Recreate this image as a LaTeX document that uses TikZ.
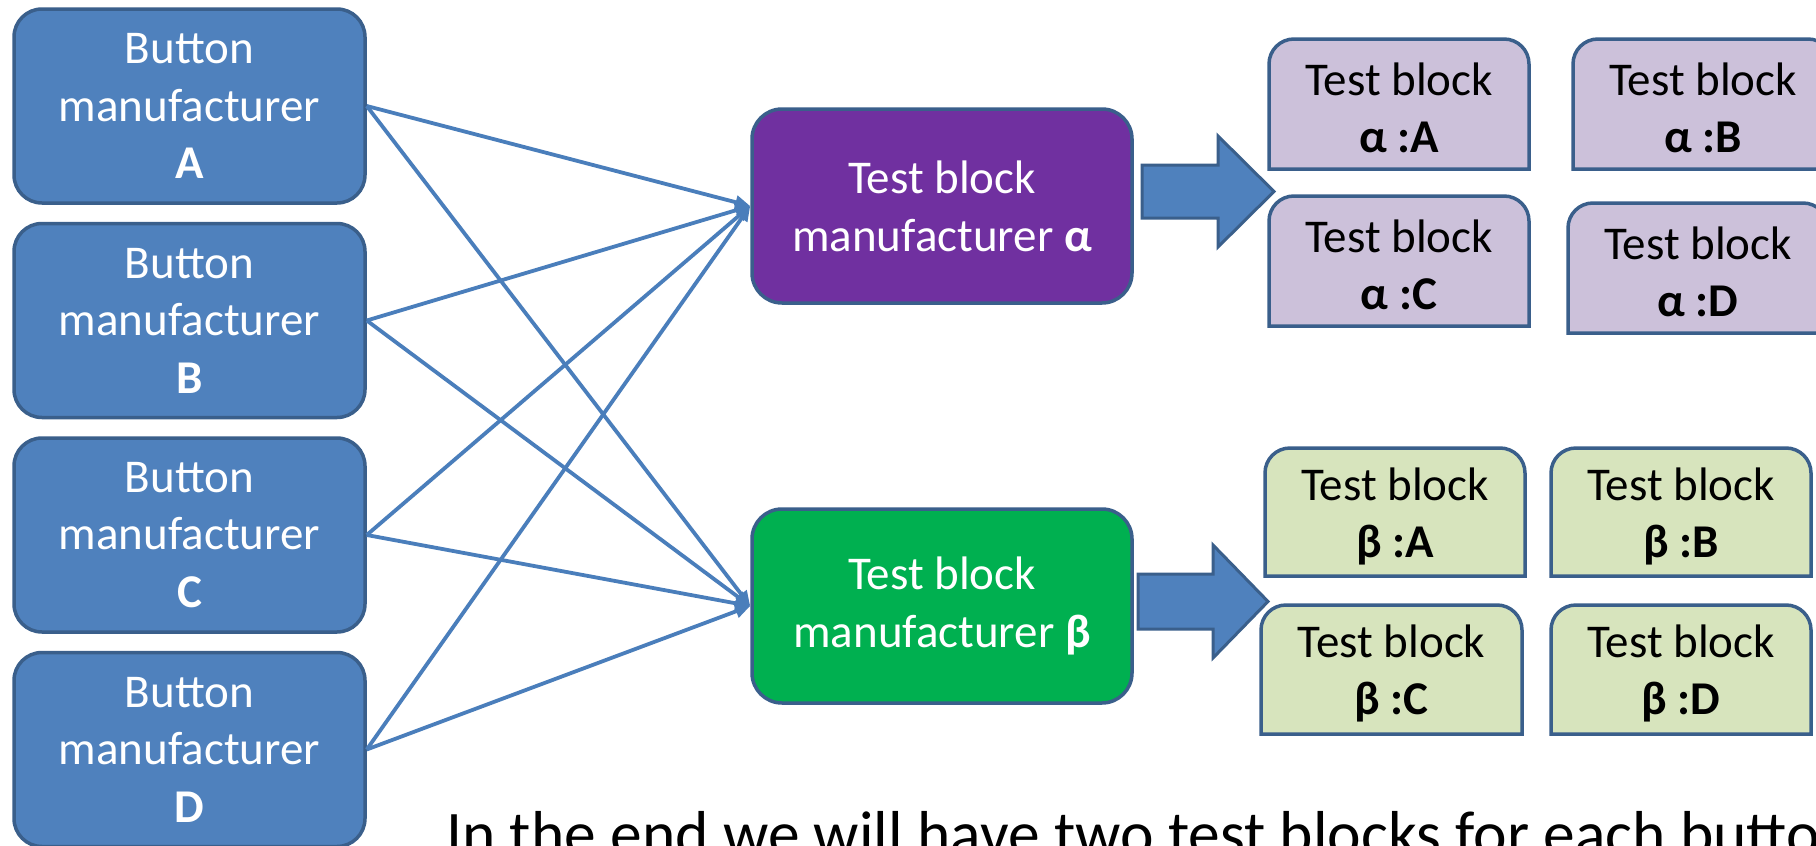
\documentclass[tikz,border=0pt]{standalone}
\usepackage{fontspec}
\setmainfont{Carlito}
\usetikzlibrary{arrows.meta}
\definecolor{btnblue}{HTML}{4F81BD}
\definecolor{bordc}{HTML}{3A5F8B}
\definecolor{linkblue}{HTML}{4A7EBB}
\definecolor{mpurple}{HTML}{7030A0}
\definecolor{mgreen}{HTML}{00B050}
\definecolor{lavend}{HTML}{CCC1DA}
\definecolor{lgreen}{HTML}{D7E4BD}
\tikzset{
  btn/.style={draw=bordc, line width=3.5pt, fill=btnblue, rounded corners=28pt,
    minimum width=351pt, minimum height=194pt, text=white, align=center,
    font=\fontsize{47}{57.5}\selectfont, inner sep=0pt},
  mfr/.style={draw=bordc, line width=3.5pt, rounded corners=30pt,
    minimum width=380pt, minimum height=194pt, text=white, align=center,
    font=\fontsize{47}{58}\selectfont, inner sep=0pt},
  tbline/.style={draw=bordc, line width=3.5pt},
  tbtext/.style={align=center, text=black, font=\fontsize{47}{57}\selectfont, inner sep=0pt},
  bigarrow/.style={draw=bordc, line width=3pt, fill=btnblue, line join=miter},
  link/.style={draw=linkblue, line width=3.8pt, -{Triangle[length=15pt,width=13pt]}},
  note/.style={anchor=base west, text=black, font=\fontsize{63.5}{75}\selectfont, inner sep=0pt}
}
\newcommand{\tblk}[7]{%
  \draw[tbline, fill=#6] (#2,#5) -- (#2,#3+25) arc[start angle=180,end angle=270,radius=25]
    -- (#4-25,#3) arc[start angle=270,end angle=360,radius=25] -- (#4,#5) -- cycle;
  \node[tbtext] (#1) at ({(#2+#4)/2},{(#3+#5)/2+4}) {Test block\\\textbf{#7}};
}
\begin{document}
\begin{tikzpicture}[x=1pt,y=-1pt]
\useasboundingbox[fill=white] (0,0) rectangle (1816,846);
\begin{scope}
\clip (0,0) rectangle (1816,846);
% button manufacturers
\node[btn] (bA) at (189.5,106) {Button\\manufacturer\\\textbf{A}};
\node[btn] (bB) at (189.5,320.5) {Button\\manufacturer\\\textbf{B}};
\node[btn] (bC) at (189.5,535) {Button\\manufacturer\\\textbf{C}};
\node[btn] (bD) at (189.5,749.5) {Button\\manufacturer\\\textbf{D}};
% test block manufacturers
\node[mfr, fill=mpurple] (ma) at (942,206) {Test block\\manufacturer \textbf{α}};
\node[mfr, fill=mgreen] (mb) at (942,606) {Test block\\manufacturer \textbf{β}};
% connectors
\foreach \s in {bA,bB,bC,bD}{
  \draw[link] (\s.east) -- (ma.west);
  \draw[link] (\s.east) -- (mb.west);
}
% block arrows
\draw[bigarrow] (1142,165) -- (1218,165) -- (1218,136) -- (1274,191.5) -- (1218,247) -- (1218,218) -- (1142,218) -- cycle;
\draw[bigarrow] (1138,574) -- (1213,574) -- (1213,545) -- (1268,601.5) -- (1213,658) -- (1213,629) -- (1138,629) -- cycle;
% test blocks alpha
\tblk{taA}{1269}{39}{1529}{169}{lavend}{α :A}
\tblk{taB}{1573}{39}{1833}{169}{lavend}{α :B}
\tblk{taC}{1269}{196}{1529}{326}{lavend}{α :C}
\tblk{taD}{1568}{203}{1828}{333}{lavend}{α :D}
% test blocks beta
\tblk{tbA}{1265}{448}{1525}{576}{lgreen}{β :A}
\tblk{tbB}{1551}{448}{1811}{576}{lgreen}{β :B}
\tblk{tbC}{1261}{605}{1522}{734}{lgreen}{β :C}
\tblk{tbD}{1551}{605}{1811}{734}{lgreen}{β :D}
% bottom note
\node[note] (note) at (446,855) {In the end we will have two test blocks for each button};
\end{scope}
\end{tikzpicture}
\end{document}
